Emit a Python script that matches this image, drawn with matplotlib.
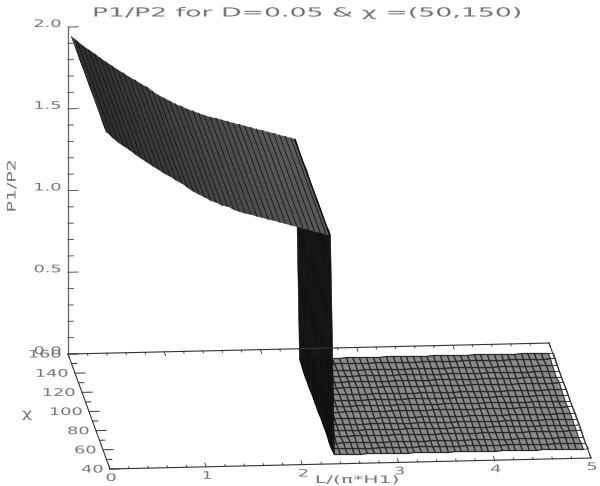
import numpy as np
import matplotlib
matplotlib.use('Agg')
import matplotlib.pyplot as plt
from matplotlib.patheffects import AbstractPathEffect
from matplotlib.transforms import Affine2D

# P1/P2, same for every chi
L_top = [0.00, 0.06, 0.12, 0.18, 0.24, 0.30, 0.36, 0.42, 0.48, 0.54, 0.60, 0.66, 0.72, 0.78,
         0.84, 0.90, 0.96, 1.02, 1.08, 1.14, 1.20, 1.26, 1.32, 1.38, 1.44, 1.50, 1.56, 1.62,
         1.68, 1.74, 1.80, 1.86, 1.92, 1.98, 2.04, 2.10, 2.16, 2.22, 2.28, 2.32]
P_top = [2.00, 1.97, 1.94, 1.915, 1.89, 1.865, 1.84, 1.815, 1.79, 1.77, 1.745, 1.725, 1.70, 1.68,
         1.655, 1.63, 1.61, 1.59, 1.575, 1.56, 1.54, 1.53, 1.515, 1.50, 1.49, 1.48, 1.47, 1.46,
         1.45, 1.44, 1.43, 1.42, 1.41, 1.40, 1.39, 1.38, 1.37, 1.36, 1.35, 1.34]
# the drop
L_wall = [2.32, 2.36]
P_wall = [1.34, 0.00]
# flat part, P1/P2 = 0
L_flat = [2.36, 2.43, 2.50, 2.57, 2.64, 2.71, 2.78, 2.85, 2.92, 2.99, 3.06, 3.13, 3.20, 3.27,
          3.34, 3.41, 3.48, 3.55, 3.62, 3.69, 3.76, 3.83, 3.90, 3.97, 4.04, 4.11, 4.18, 4.25,
          4.32, 4.39, 4.46, 4.53, 4.60, 4.67, 4.74, 4.81, 4.88, 4.95]
L_edge = [4.95, 5.00]
chi_rows = [50, 56, 62, 69, 75, 81, 87, 94, 100, 106, 112, 119, 125, 131, 137, 144, 150]

x_ticks = [0, 1, 2, 3, 4, 5]
x_labels = ['0', '1', '2', '3', '4', '5']
chi_ticks = [40, 60, 80, 100, 120, 140, 160]
chi_labels = ['40', '60', '80', '100', '120', '140', '160']
z_ticks = [0.0, 0.5, 1.0, 1.5, 2.0]
z_labels = ['0.0', '0.5', '1.0', '1.5', '2.0']

title = 'P1/P2 for D=0.05 & χ =(50,150)'
xlabel = 'L/(π*H1)'
ylabel = 'χ'
zlabel = 'P1/P2'

TEXT_GREY = '#767676'


def project(L, chi, p):
    # oblique view, pixels of the picture
    L, chi, p = np.asarray(L, float), np.asarray(chi, float), np.asarray(p, float)
    x = 110 + 96.2 * L - 0.35 * (chi - 40)
    y = 469 - 2.2 * L - 0.958 * (chi - 40) - 163.5 * p
    return x, y


class WideText(AbstractPathEffect):
    # the plot font is much wider than anything installed
    def __init__(self, sx, anchor='center'):
        super().__init__()
        self.sx = sx
        self.anchor = anchor

    def draw_path(self, renderer, gc, tpath, affine, rgbFace=None):
        ext = tpath.get_extents()
        x0 = ext.x1 if self.anchor == 'right' else (ext.x0 + ext.x1) / 2
        wide = Affine2D().translate(-x0, 0).scale(self.sx, 1).translate(x0, 0)
        renderer.draw_path(gc, tpath, wide + affine, rgbFace)


def label(x, y, s, size=7.5, sx=1.7, ha='center', rotation=0):
    t = ax.text(x, y, s, fontsize=size, color=TEXT_GREY, ha=ha, va='center', rotation=rotation,
                rotation_mode='anchor')
    t.set_path_effects([WideText(sx, ha)])
    return t


def sheet(L, p, shade, edge, lw):
    LL, CC = np.meshgrid(L, chi_rows)
    PP = np.tile(p, (len(chi_rows), 1))
    X, Y = project(LL, CC, PP)
    ax.pcolormesh(X, Y, shade, cmap='gray', vmin=0, vmax=1, edgecolors=edge, linewidth=lw,
                  shading='flat', antialiased=True)
    return X, Y


fig = plt.figure(figsize=(6.0, 4.86), dpi=100)
ax = fig.add_axes([0, 0, 1, 1])
ax.set_xlim(0, 600)
ax.set_ylim(486, 0)
ax.axis('off')

# box on the floor + P axis
for L0, c0, L1, c1 in [(0, 40, 5, 40), (0, 160, 5, 160), (0, 40, 0, 160), (5, 40, 5, 160)]:
    x, y = project([L0, L1], [c0, c1], [0, 0])
    ax.plot(x, y, color='#333333', lw=0.8)
x, y = project([0, 0], [160, 160], [0, 2])
ax.plot(x, y, color='#666666', lw=0.9)

# ticks
for v in np.arange(0, 5.01, 0.2):
    n = 4 if abs(v - round(v)) < 1e-6 else 2
    x, y = project([v, v], [40, 40 + n], [0, 0])
    ax.plot(x, y, color='#333333', lw=0.6)
    x, y = project([v, v], [160, 160 - n], [0, 0])
    ax.plot(x, y, color='#333333', lw=0.6)
for v in np.arange(40, 161, 10):
    n = 0.105 if v % 20 == 0 else 0.055
    x, y = project([0, n], [v, v], [0, 0])
    ax.plot(x, y, color='#333333', lw=0.7)
for v in np.arange(0, 2.01, 0.1):
    n = 0.105 if abs(v * 2 - round(v * 2)) < 1e-6 else 0.055
    x, y = project([0, n], [160, 160], [v, v])
    ax.plot(x, y, color='#555555', lw=0.7)

# flat part first, then the wall, upper sheet on top
sheet(L_flat, np.zeros(len(L_flat)), np.full((len(chi_rows) - 1, len(L_flat) - 1), 0.54), '#2a2a2a', 0.9)
sheet(L_edge, np.zeros(len(L_edge)), np.ones((len(chi_rows) - 1, 1)), '#2c2c2c', 0.6)
sheet(L_wall, np.array(P_wall), np.full((len(chi_rows) - 1, 1), 0.09), '#050505', 0.4)

# darker towards the steep end
top_shade = np.linspace(0.17, 0.36, len(L_top) - 1)
X, Y = sheet(L_top, np.array(P_top), np.tile(top_shade, (len(chi_rows) - 1, 1)), 'face', 0.4)
ax.plot(X, Y, color='#141414', lw=0.6)
ax.plot(X[:, -1], Y[:, -1], color='#111111', lw=1.0)

# tick labels
for v, s in zip(x_ticks, x_labels):
    x, y = project(v, 40, 0)
    label(x + 1, y + 9, s)
for v, s in zip(chi_ticks, chi_labels):
    x, y = project(0, v, 0)
    label(x - 7, y + 0.5, s, ha='right')
for v, s in zip(z_ticks, z_labels):
    x, y = project(0, 160, v)
    label(x - 7, y - 3, s, ha='right')

label(307.5, 13, title, size=9, sx=2.14)
label(357, 480, xlabel, size=7.5, sx=1.95)
label(27, 414, ylabel, size=9, sx=1.5)
label(12, 186, zlabel, size=8.5, sx=1.6, rotation=90)

fig.savefig('out.png', dpi=100)
